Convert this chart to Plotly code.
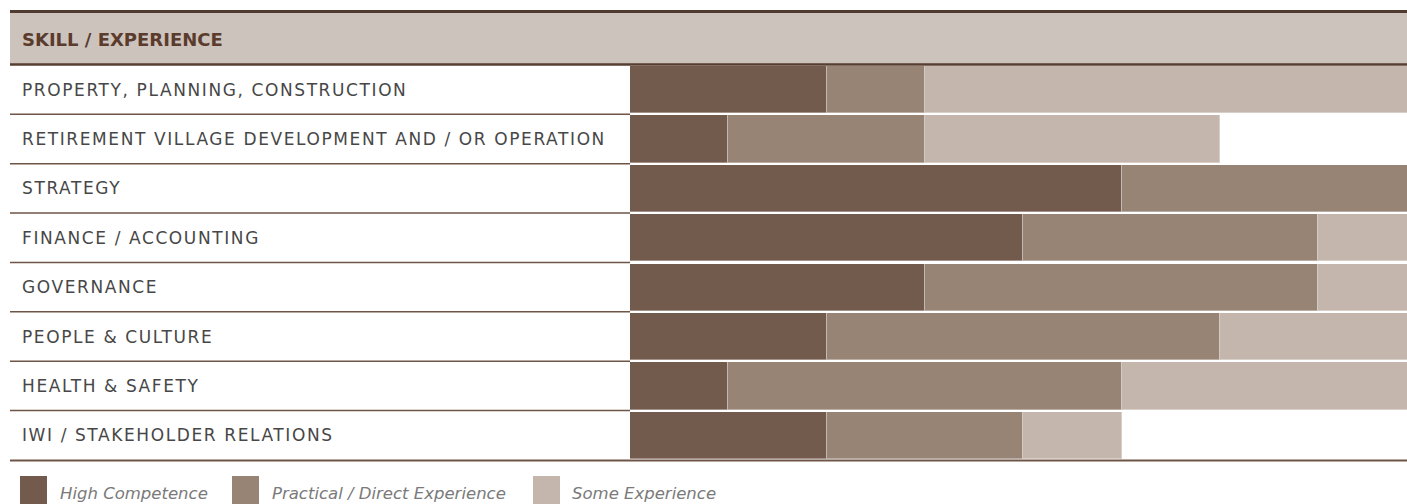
import plotly.graph_objects as go

# ---- data ----
header_text = "SKILL / EXPERIENCE"
skills = [
    "PROPERTY, PLANNING, CONSTRUCTION",
    "RETIREMENT VILLAGE DEVELOPMENT AND / OR OPERATION",
    "STRATEGY",
    "FINANCE / ACCOUNTING",
    "GOVERNANCE",
    "PEOPLE & CULTURE",
    "HEALTH & SAFETY",
    "IWI / STAKEHOLDER RELATIONS",
]
high_competence = [2, 1, 5, 4, 3, 2, 1, 2]
practical_experience = [1, 2, 3, 3, 4, 4, 4, 2]
some_experience = [5, 3, 0, 1, 1, 2, 3, 1]
series_names = ["High Competence", "Practical / Direct Experience", "Some Experience"]

# ---- style ----
W, H = 1407, 504
L, R, T, B = 630, 0, 66, 43
PW, PH = W - L - R, H - T - B
colors = ["#725a4c", "#978475", "#c4b5ad"]
header_fill = "#cdc3bd"
dark_line = "#4e3a2e"
row_line = "#6e5546"
label_color = "#474747"
header_color = "#5a3b2c"
legend_color = "#7a7a7a"
FONT = "DejaVu Sans"


def px_x(p):
    return (p - L) / PW


def px_y(p):
    return (H - B - p) / PH


def spaced(s, ls):
    return '<span style="letter-spacing:%.2fpx">%s</span>' % (ls, s)


positions = list(range(len(skills)))
values = [high_competence, practical_experience, some_experience]

fig = go.Figure()
for name, vals, col in zip(series_names, values, colors):
    fig.add_trace(go.Bar(
        y=positions, x=vals, orientation="h", name=name,
        marker=dict(color=col, line=dict(color="rgba(255,255,255,0.35)", width=1)),
        width=0.958, offset=-0.5, hoverinfo="skip", showlegend=False,
    ))

shapes = []
# header band
shapes.append(dict(type="rect", xref="paper", yref="paper",
                   x0=px_x(10), x1=1.0, y0=px_y(65), y1=px_y(12),
                   fillcolor=header_fill, line=dict(width=0), layer="below"))
shapes.append(dict(type="line", xref="paper", yref="paper",
                   x0=px_x(10), x1=1.0, y0=px_y(11.5), y1=px_y(11.5),
                   line=dict(color=dark_line, width=3)))
shapes.append(dict(type="line", xref="paper", yref="paper",
                   x0=px_x(10), x1=1.0, y0=px_y(64.5), y1=px_y(64.5),
                   line=dict(color="#573e30", width=2.5)))
# row separators in label area
for i in positions[:-1]:
    shapes.append(dict(type="line", xref="paper", yref="y",
                       x0=px_x(10), x1=0.0, y0=i + 0.479, y1=i + 0.479,
                       line=dict(color=row_line, width=1.5)))
# bottom rule
shapes.append(dict(type="line", xref="paper", yref="paper",
                   x0=px_x(10), x1=1.0, y0=px_y(460.5), y1=px_y(460.5),
                   line=dict(color=row_line, width=2)))

annotations = []
annotations.append(dict(text=header_text, xref="paper", yref="paper",
                        x=px_x(20), y=px_y(39), xanchor="left", yanchor="middle",
                        showarrow=False,
                        font=dict(family=FONT, size=18, color=header_color, weight="bold")))
for i, s in zip(positions, skills):
    annotations.append(dict(text=spaced(s, 1.6), xref="paper", yref="y",
                            x=px_x(20), y=i - 0.02, xanchor="left", yanchor="middle",
                            showarrow=False,
                            font=dict(family=FONT, size=17, color=label_color)))

# legend (custom)
legend_sq_x = [20, 232, 533]
legend_txt_x = [58, 270, 570]
for name, col, sx, tx in zip(series_names, colors, legend_sq_x, legend_txt_x):
    shapes.append(dict(type="rect", xref="paper", yref="paper",
                       x0=px_x(sx), x1=px_x(sx + 27), y0=px_y(476), y1=px_y(512),
                       fillcolor=col, line=dict(width=0)))
    annotations.append(dict(text=name, xref="paper", yref="paper",
                            x=px_x(tx), y=px_y(493.5), xanchor="left", yanchor="middle",
                            showarrow=False,
                            font=dict(family=FONT, size=16.5, color=legend_color, style="italic")))

fig.update_layout(
    width=W, height=H,
    margin=dict(l=L, r=R, t=T, b=B, pad=0),
    barmode="stack", bargap=0,
    paper_bgcolor="white", plot_bgcolor="white",
    xaxis=dict(range=[0, PW / 98.3], visible=False, fixedrange=True),
    yaxis=dict(range=[len(skills) - 0.5, -0.5], visible=False, fixedrange=True),
    shapes=shapes, annotations=annotations,
    showlegend=False,
)

fig.write_html(
    "out.html",
    config={"displayModeBar": False},
    post_script="document.body.style.margin='0';document.body.style.overflow='hidden';",
)
